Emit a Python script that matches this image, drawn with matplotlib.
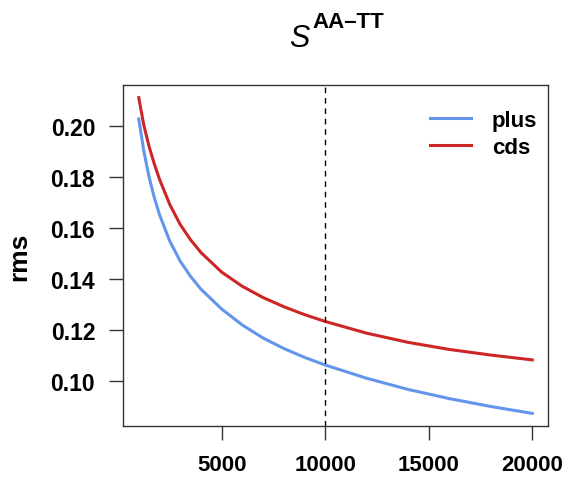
import matplotlib
matplotlib.use('Agg')
import matplotlib.pyplot as plt

# values
xs = [1000, 1250, 1500, 1750, 2000, 2500, 3000, 3500, 4000, 5000, 6000, 7000, 8000,
      9000, 10000, 12000, 14000, 16000, 18000, 20000]
rms_plus = [0.2028, 0.1900, 0.1800, 0.1720, 0.1653, 0.1548, 0.1470, 0.1410, 0.1360, 0.1282,
            0.1219, 0.1168, 0.1127, 0.1092, 0.1062, 0.1010, 0.0966, 0.0930, 0.0899, 0.0872]
rms_cds = [0.2112, 0.2002, 0.1920, 0.1852, 0.1792, 0.1692, 0.1614, 0.1554, 0.1504, 0.1427,
           0.1371, 0.1327, 0.1291, 0.1260, 0.1233, 0.1187, 0.1151, 0.1123, 0.1101, 0.1082]
series_names = ['plus', 'cds']
series_cols = ['#6495ED', '#CD2626']
cutoff = 10000
xticks = [5000, 10000, 15000, 20000]
yticks = [0.10, 0.12, 0.14, 0.16, 0.18, 0.20]

plt.rcParams['font.family'] = ['Liberation Sans', 'DejaVu Sans']

f = plt.figure(figsize=(5.7, 4.89), dpi=100)
ax = f.add_axes([123/570., 1-427/489., 425/570., 341/489.])

ax.plot(xs, rms_plus, '-', color=series_cols[0], lw=2.2, label=series_names[0])
ax.plot(xs, rms_cds, '-', color=series_cols[1], lw=2.2, label=series_names[1])
ax.axvline(cutoff, color='k', ls=(0, (4, 3.5)), lw=1.0)

# R style 4% padding
xr = xs[-1] - xs[0]
ax.set_xlim(xs[0] - 0.04*xr, xs[-1] + 0.04*xr)
ymin = min(rms_plus + rms_cds)
ymax = max(rms_plus + rms_cds)
yr = ymax - ymin
ax.set_ylim(ymin - 0.04*yr, ymax + 0.04*yr)

ax.set_xticks(xticks)
ax.set_xticklabels([str(t) for t in xticks], fontweight='bold', fontsize=16)
ax.set_yticks(yticks)
ax.set_yticklabels(['%.2f' % t for t in yticks], fontweight='bold', fontsize=16.5)
ax.tick_params(axis='both', direction='out', length=10, width=1.0, color='#333333')
ax.tick_params(axis='x', pad=10)
ax.tick_params(axis='y', pad=10)
for sp in ax.spines.values():
    sp.set_linewidth(1.0)
    sp.set_color('#333333')

ax.set_ylabel('rms', fontweight='bold', fontsize=19, labelpad=14)

leg = ax.legend(loc='upper left', frameon=False, prop={'weight': 'bold', 'size': 16},
                handlelength=1.85, handletextpad=0.95, labelspacing=0.28,
                borderpad=0, borderaxespad=0, bbox_to_anchor=(0.722, 0.927))

# title: italic S with bold superscript
f.text(0.526, 0.904, 'S', fontsize=22, fontstyle='italic', ha='center', va='baseline')
f.text(0.549, 0.943, 'AA\u2013TT', fontsize=16, fontweight='bold', ha='left', va='baseline')

f.savefig('out.png', dpi=100)
